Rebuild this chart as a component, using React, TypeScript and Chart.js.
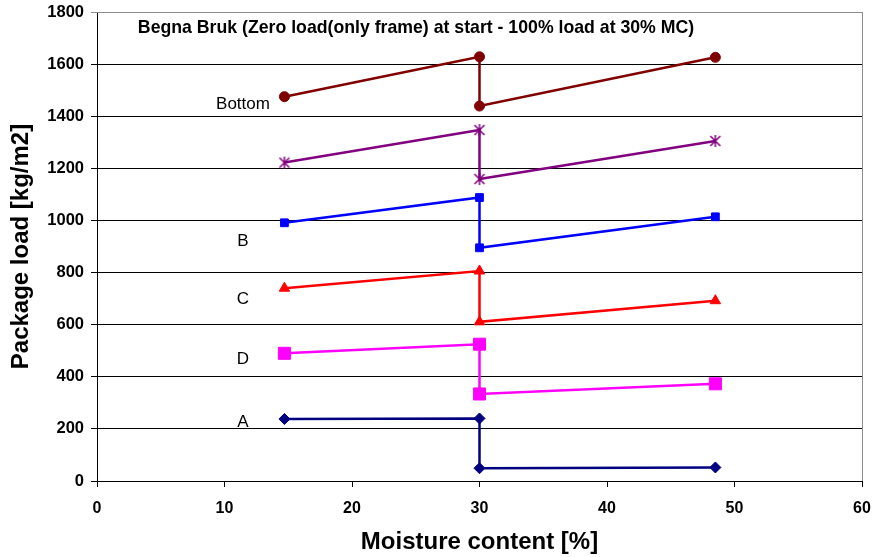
import React, { useEffect, useRef } from "react";
import { Chart, registerables } from "chart.js";

Chart.register(...registerables);

// Moisture content [%] at each reading
const moisture = [14.7, 30, 30, 48.5];

// Package load [kg/m2] for each layer
const bottomLoad = [1475, 1628, 1439, 1626];
const starLoad = [1222, 1347, 1159, 1305];
const bLoad = [991, 1088, 895, 1014];
const cLoad = [740, 806, 611, 692];
const dLoad = [490, 525, 334, 373];
const aLoad = [238, 240, 49, 52];

// Layer names written beside the series (data coordinates)
const layerNames = ["Bottom", "B", "C", "D", "A"];
const layerNameX = [11.45, 11.45, 11.45, 11.45, 11.45];
const layerNameY = [1447, 921, 698, 468, 226];

const xTicks = [0, 10, 20, 30, 40, 50, 60];
const yTicks = [0, 200, 400, 600, 800, 1000, 1200, 1400, 1600, 1800];

const chartTitle = "Begna Bruk (Zero load(only frame) at start - 100% load at 30% MC)";

const FONT = "'Liberation Sans', Arial, Helvetica, sans-serif";

function toPoints(ys: number[]) {
  return ys.map((y, i) => ({ x: moisture[i], y }));
}

function makeStar(color: string): HTMLCanvasElement {
  const c = document.createElement("canvas");
  c.width = 14;
  c.height = 14;
  const ctx = c.getContext("2d")!;
  ctx.strokeStyle = color;
  ctx.lineWidth = 1.5;
  ctx.beginPath();
  ctx.moveTo(2, 2);
  ctx.lineTo(12, 12);
  ctx.moveTo(12, 2);
  ctx.lineTo(2, 12);
  ctx.moveTo(7, 1);
  ctx.lineTo(7, 13);
  ctx.stroke();
  return c;
}

const annotations = {
  id: "annotations",
  afterDatasetsDraw(chart: any) {
    const { ctx, chartArea, scales } = chart;
    ctx.save();
    // plot frame on the top and right
    ctx.strokeStyle = "#8c8c8c";
    ctx.lineWidth = 1;
    ctx.beginPath();
    ctx.moveTo(chartArea.left, chartArea.top + 0.5);
    ctx.lineTo(chartArea.right + 0.5, chartArea.top + 0.5);
    ctx.lineTo(chartArea.right + 0.5, chartArea.bottom);
    ctx.stroke();

    // heading inside the plot
    ctx.fillStyle = "#000";
    ctx.font = `bold 17.7px ${FONT}`;
    ctx.textAlign = "center";
    ctx.textBaseline = "middle";
    ctx.fillText(chartTitle, 416, 28);

    // layer names
    ctx.font = `17px ${FONT}`;
    layerNames.forEach((name, i) => {
      const px = scales.x.getPixelForValue(layerNameX[i]);
      const py = scales.y.getPixelForValue(layerNameY[i]);
      ctx.fillText(name, px, py);
    });
    ctx.restore();
  },
};

export default function App() {
  const ref = useRef<HTMLCanvasElement | null>(null);

  useEffect(() => {
    if (!ref.current) return;
    const star = makeStar("#800080");
    const line = (label: string, ys: number[], color: string, style: any, radius: number) => ({
      label,
      data: toPoints(ys),
      showLine: true,
      borderColor: color,
      backgroundColor: color,
      borderWidth: 2.5,
      pointStyle: style,
      pointRadius: radius,
      pointBorderWidth: 1,
      pointBorderColor: color,
      pointBackgroundColor: color,
    });

    const chart = new Chart(ref.current, {
      type: "scatter",
      data: {
        datasets: [
          line("Bottom", bottomLoad, "#800000", "circle", 5),
          line("E", starLoad, "#800080", star, 7),
          line("B", bLoad, "#0000ff", "rect", 5.5),
          line("C", cLoad, "#ff0000", "triangle", 6),
          line("D", dLoad, "#ff00ff", "rect", 8.5),
          line("A", aLoad, "#000080", "rectRot", 5.5),
        ] as any,
      },
      options: {
        animation: false,
        responsive: false,
        layout: { padding: { top: 12, right: 12, left: 0, bottom: 0 } },
        plugins: {
          legend: { display: false },
          tooltip: { enabled: false },
        },
        scales: {
          x: {
            type: "linear",
            min: 0,
            max: 60,
            afterBuildTicks: (s: any) => {
              s.ticks = xTicks.map((v) => ({ value: v }));
            },
            afterFit: (s: any) => {
              s.height = 76;
              s.paddingLeft = 0;
              s.paddingRight = 0;
            },
            grid: {
              drawOnChartArea: false,
              color: "#000",
              tickLength: 6,
            },
            border: { color: "#000", width: 1 },
            ticks: {
              color: "#000",
              padding: 12,
              maxRotation: 0,
              callback: (v: any) => String(v),
              font: { family: FONT, size: 16, weight: "bold" },
            },
            title: {
              display: true,
              text: "Moisture content [%]",
              color: "#000",
              font: { family: FONT, size: 24, weight: "bold" },
              padding: { top: 0, bottom: 0 },
            },
          },
          y: {
            type: "linear",
            min: 0,
            max: 1800,
            afterBuildTicks: (s: any) => {
              s.ticks = yTicks.map((v) => ({ value: v }));
            },
            afterFit: (s: any) => {
              s.width = 97;
              s.paddingTop = 0;
              s.paddingBottom = 0;
            },
            grid: {
              color: (c: any) => (c.tick && c.tick.value === 1800 ? "#8c8c8c" : "#000"),
              tickLength: 6,
              lineWidth: 1,
            },
            border: { color: "#000", width: 1 },
            ticks: {
              color: "#000",
              padding: 7,
              callback: (v: any) => String(v),
              font: { family: FONT, size: 16.5, weight: "bold" },
            },
            title: {
              display: true,
              text: "Package load [kg/m2]",
              color: "#000",
              font: { family: FONT, size: 24, weight: "bold" },
              padding: { top: 7, bottom: 0 },
            },
          },
        },
      },
      plugins: [annotations],
    } as any);

    return () => chart.destroy();
  }, []);

  return (
    <div style={{ position: "fixed", left: 0, top: 0, width: 874, height: 557, background: "#fff" }}>
      <canvas ref={ref} width={874} height={557} style={{ display: "block" }} />
    </div>
  );
}
